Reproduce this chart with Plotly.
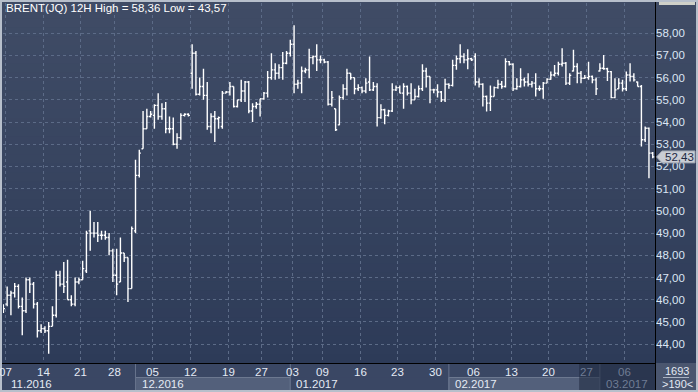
import plotly.graph_objects as go
import pandas as pd

# ---------------- data ----------------
opens = [45.5, 45.8, 46.2, 46.3, 46.6, 45.7, 45.5, 46.9, 46.7, 45.8,
         44.6, 44.7, 44.6, 44.8, 45.3, 47.1, 46.7, 46.8, 46.0, 45.8,
         46.8, 46.9, 47.3, 49.1, 49.0, 49.0, 48.9, 48.9, 48.8, 48.2,
         47.1, 46.8, 48.1, 47.9, 46.5, 49.1, 51.6, 52.8, 53.7, 54.25,
         54.3, 54.75, 54.25, 54.6, 53.7, 53.7, 53.0, 53.3, 54.3, 54.35,
         56.2, 57.1, 55.25, 55.6, 55.2, 53.8, 54.25, 54.15, 53.8, 55.3,
         55.35, 55.6, 54.7, 55.0, 55.4, 55.8, 54.5, 54.7, 54.8, 55.05,
         55.3, 56.0, 56.35, 56.2, 56.45, 56.65, 57.1, 57.5, 55.7, 55.75,
         56.3, 56.35, 56.9, 56.95, 56.8, 56.8, 56.7, 54.8, 54.6, 53.87,
         55.1, 55.5, 56.2, 56.0, 55.5, 55.55, 55.4, 55.8, 55.45, 55.6,
         54.2, 54.55, 54.3, 54.5, 55.45, 55.55, 55.3, 55.6, 55.3, 55.0,
         55.15, 55.5, 56.3, 56.05, 55.45, 55.45, 55.35, 55.0, 55.7, 55.65,
         56.55, 56.85, 56.95, 56.8, 56.85, 56.95, 55.8, 55.7, 55.15, 54.85,
         55.15, 55.55, 55.7, 55.6, 56.72, 56.6, 55.5, 55.6, 55.9, 55.8,
         55.7, 55.75, 55.5, 55.5, 55.75, 55.93, 56.12, 56.2, 56.6, 56.65,
         55.75, 56.3, 56.5, 56.2, 55.97, 56.0, 56.05, 55.9, 56.3, 56.42,
         56.4, 56.27, 55.1, 55.5, 55.75, 55.5, 56.12, 56.05, 55.8, 55.6,
         53.2, 53.72, 52.6]
highs = [45.8, 46.6, 46.4, 46.75, 46.7, 46.1, 47.0, 47.0, 46.8, 45.9,
         44.9, 44.8, 45.0, 45.7, 47.3, 47.3, 47.7, 47.8, 46.2, 47.0,
         47.0, 47.75, 49.1, 50.0, 49.5, 49.5, 49.1, 49.1, 49.0, 48.3,
         48.3, 48.8, 48.1, 47.9, 49.3, 52.3, 52.75, 54.5, 54.6, 54.5,
         54.8, 55.3, 54.85, 54.9, 54.25, 54.2, 53.5, 54.4, 54.4, 54.4,
         57.5, 57.2, 56.0, 56.4, 55.8, 54.4, 54.5, 54.25, 55.4, 55.4,
         55.8, 55.6, 55.0, 55.9, 55.85, 55.85, 54.85, 54.9, 55.05, 55.35,
         56.3, 57.1, 56.65, 56.6, 57.15, 57.2, 57.7, 58.36, 55.9, 56.5,
         56.45, 57.3, 57.0, 57.5, 57.0, 56.85, 56.75, 55.4, 54.6, 55.2,
         55.7, 56.4, 56.2, 56.0, 55.7, 55.6, 55.97, 56.95, 55.8, 55.75,
         54.8, 54.6, 54.55, 55.75, 55.65, 55.65, 55.75, 55.65, 55.75, 55.5,
         55.65, 56.6, 56.45, 56.05, 55.5, 55.7, 55.4, 55.95, 55.75, 56.8,
         57.0, 57.5, 57.1, 57.28, 56.9, 57.1, 55.97, 55.75, 55.2, 55.65,
         55.6, 55.9, 55.85, 56.87, 56.75, 56.65, 55.97, 56.42, 56.0, 56.2,
         55.85, 56.2, 55.65, 55.8, 55.97, 56.27, 56.57, 56.72, 57.32, 56.7,
         56.2, 57.25, 56.65, 56.3, 56.12, 56.72, 56.1, 56.0, 56.65, 57.02,
         56.45, 56.3, 55.97, 55.97, 55.9, 56.27, 56.65, 56.2, 55.82, 55.67,
         53.8, 53.75, 52.65]
lows = [45.4, 45.7, 45.3, 46.1, 45.6, 44.4, 45.4, 46.3, 45.6, 44.3,
        44.5, 44.5, 43.57, 44.8, 45.2, 46.6, 46.3, 46.0, 45.7, 45.7,
        46.7, 46.9, 47.2, 48.2, 48.8, 48.6, 48.7, 48.7, 48.0, 46.8,
        46.2, 46.8, 47.7, 45.9, 46.5, 49.0, 51.5, 52.8, 53.7, 54.2,
        53.7, 54.1, 54.1, 53.5, 53.5, 52.95, 52.8, 53.2, 54.25, 54.25,
        55.5, 55.2, 55.2, 55.0, 53.65, 53.5, 53.1, 53.7, 53.7, 55.3,
        55.2, 54.65, 54.65, 54.9, 54.9, 54.4, 54.0, 54.6, 54.25, 55.0,
        55.1, 55.9, 55.9, 55.95, 55.9, 56.6, 56.95, 55.3, 55.5, 55.3,
        56.2, 55.97, 56.6, 56.3, 56.65, 56.65, 54.75, 54.7, 53.6, 53.85,
        55.0, 55.2, 55.9, 55.25, 55.4, 55.3, 55.3, 55.4, 55.4, 53.8,
        54.15, 53.9, 54.25, 54.45, 55.4, 55.3, 54.6, 55.2, 54.8, 55.0,
        55.1, 55.4, 55.55, 54.85, 55.3, 55.1, 54.9, 54.9, 55.5, 55.6,
        56.35, 56.65, 56.65, 56.38, 56.75, 55.65, 55.55, 54.7, 54.47, 54.5,
        55.15, 55.5, 55.5, 55.55, 56.55, 55.4, 55.45, 55.55, 55.6, 55.6,
        55.55, 55.15, 55.4, 55.05, 55.75, 55.9, 56.05, 56.1, 56.5, 55.67,
        55.67, 56.27, 55.75, 55.75, 55.95, 55.9, 55.75, 55.22, 56.27, 56.35,
        55.85, 55.07, 55.07, 55.5, 55.37, 55.4, 55.82, 55.82, 55.6, 52.9,
        53.1, 51.47, 52.37]
closes = [45.6, 46.2, 46.3, 46.6, 45.7, 45.5, 46.9, 46.7, 45.8, 44.6,
          44.7, 44.6, 44.8, 45.3, 47.1, 46.7, 46.6, 46.0, 45.8, 46.8,
          46.9, 47.4, 49.0, 49.0, 49.0, 48.9, 48.9, 48.8, 48.2, 47.1,
          46.7, 48.1, 47.9, 46.5, 49.2, 51.6, 52.6, 53.7, 54.25, 54.35,
          54.75, 54.25, 54.6, 53.7, 53.7, 53.0, 53.3, 54.3, 54.35, 54.3,
          57.1, 55.25, 55.6, 55.2, 53.8, 54.25, 54.15, 54.2, 55.3, 55.35,
          55.6, 54.7, 55.0, 55.4, 55.8, 54.5, 54.7, 54.8, 55.05, 55.3,
          56.0, 56.35, 56.2, 56.45, 56.65, 57.1, 57.5, 55.7, 55.75, 56.3,
          56.35, 56.9, 56.95, 56.8, 56.8, 56.7, 54.8, 55.1, 53.65, 55.1,
          55.5, 56.2, 56.0, 55.5, 55.55, 55.4, 55.75, 55.45, 55.6, 54.2,
          54.55, 54.3, 54.5, 55.45, 55.55, 55.3, 55.6, 55.3, 55.0, 55.15,
          55.5, 56.3, 56.05, 55.45, 55.45, 55.35, 55.0, 55.7, 55.65, 56.55,
          56.85, 56.95, 56.8, 56.85, 56.8, 55.8, 55.7, 55.15, 54.85, 55.15,
          55.55, 55.7, 55.6, 56.72, 56.6, 55.5, 55.6, 55.9, 55.8, 55.7,
          55.75, 55.5, 55.5, 55.75, 55.93, 56.12, 56.2, 56.6, 56.65, 55.75,
          56.1, 56.5, 56.2, 55.97, 56.0, 56.05, 55.9, 55.5, 56.42, 56.4,
          56.27, 55.1, 55.45, 55.75, 55.5, 56.12, 56.05, 55.9, 55.6, 53.2,
          53.72, 52.6, 52.43]

first_day = "2016-11-07"
last_day = "2017-03-10"
closed_days = ["2016-12-26", "2017-01-02"]
single_bar_days = ["2016-11-25", "2016-12-23", "2017-03-10"]
label_days = ["2016-11-07", "2016-11-14", "2016-11-21", "2016-11-28",
              "2016-12-05", "2016-12-12", "2016-12-19", "2016-12-27",
              "2017-01-03", "2017-01-09", "2017-01-16", "2017-01-23",
              "2017-01-30", "2017-02-06", "2017-02-13", "2017-02-20",
              "2017-02-27", "2017-03-06"]
price_ticks = list(range(44, 59))
title_text = "BRENT(JQ) 12H High = 58,36 Low = 43,57"
corner_top = "1693"
corner_bottom = ">190<"

# ---------------- bar calendar ----------------
days = [d.strftime("%Y-%m-%d") for d in pd.bdate_range(first_day, last_day)
        if d.strftime("%Y-%m-%d") not in closed_days]
bar_day = []
for d in days:
    bar_day += [d] * (1 if d in single_bar_days else 2)
n_bars = min(len(bar_day), len(opens))
bar_day = bar_day[:n_bars]
first_idx = {}
for i, d in enumerate(bar_day):
    first_idx.setdefault(d, i)
month_starts = []
for i, d in enumerate(bar_day):
    m = d[:7]
    if not month_starts or month_starts[-1][1] != m:
        month_starts.append((i, m))

# ---------------- geometry helpers ----------------
W, H = 698, 392
ML, MR, MT, MB = 3, 43, 3, 29
PW, PH = W - ML - MR, H - MT - MB
XR = [-0.1, n_bars - 0.4]
YR = [43.15, 59.36]


def px(x):
    return (x - ML) / PW


def py(y):
    return (H - MB - y) / PH


FONT = "Liberation Sans Narrow, Arial Narrow, Liberation Sans, Arial, sans-serif"

fig = go.Figure()
fig.add_trace(go.Ohlc(
    x=list(range(n_bars)), open=opens[:n_bars], high=highs[:n_bars],
    low=lows[:n_bars], close=closes[:n_bars],
    increasing=dict(line=dict(color="#ffffff", width=1.4)),
    decreasing=dict(line=dict(color="#ffffff", width=1.4)),
    tickwidth=0.42, hoverinfo="skip", showlegend=False,
))

shapes = []
# background gradient (plot + right panel)
top_c = (64, 76, 102)
bot_c = (45, 59, 88)
ns = 40
for k in range(ns):
    y0 = 363 * k / ns
    y1 = 363 * (k + 1) / ns
    t = (k + 0.5) / ns
    c = tuple(int(round(top_c[j] + (bot_c[j] - top_c[j]) * t)) for j in range(3))
    shapes.append(dict(type="rect", xref="paper", yref="paper", layer="below",
                       x0=px(0), x1=px(W), y0=py(y1 + 0.5), y1=py(y0),
                       line=dict(width=0), fillcolor="rgb(%d,%d,%d)" % c))
# bottom axis area
shapes.append(dict(type="rect", xref="paper", yref="paper", layer="below",
                   x0=px(0), x1=px(655), y0=py(H), y1=py(363),
                   line=dict(width=0), fillcolor="#3a4764"))
# month bands (lower row)
for k, (i0, m) in enumerate(month_starts):
    i1 = month_starts[k + 1][0] if k + 1 < len(month_starts) else XR[1] + 5
    x0 = i0 if k > 0 else XR[0] - 2
    light = (k % 2 == 1)
    shapes.append(dict(type="rect", xref="x", yref="paper", layer="below",
                       x0=x0, x1=i1, y0=py(390.5), y1=py(377.5),
                       line=dict(width=1, color="#6c7890" if light else "rgba(0,0,0,0)"),
                       fillcolor="#53607b" if light else "#3a4764"))
    if k > 0:
        shapes.append(dict(type="line", xref="x", yref="paper", layer="below",
                           x0=i0, x1=i0, y0=py(391), y1=py(364),
                           line=dict(width=1, color="#66728b")))
# dim overlay at the end of the time axis
dim_start = n_bars - 20 - 0.5
shapes.append(dict(type="rect", xref="x", yref="paper", layer="above",
                   x0=dim_start, x1=XR[1] + 5, y0=py(391), y1=py(364),
                   line=dict(width=0), fillcolor="rgba(30,40,62,0.55)"))
# bottom-right corner box
shapes.append(dict(type="rect", xref="paper", yref="paper", layer="below",
                   x0=px(655), x1=px(W), y0=py(H), y1=py(363),
                   line=dict(width=0), fillcolor="#4a566f"))
shapes.append(dict(type="line", xref="paper", yref="paper", layer="above",
                   x0=px(663), x1=px(689), y0=py(377.5), y1=py(377.5),
                   line=dict(width=1, color="#a9b2c2")))
# black axis lines
shapes.append(dict(type="line", xref="paper", yref="paper", layer="above",
                   x0=px(0), x1=px(655.5), y0=py(363.5), y1=py(363.5),
                   line=dict(width=1, color="#000000")))
shapes.append(dict(type="line", xref="paper", yref="paper", layer="above",
                   x0=px(655.5), x1=px(655.5), y0=py(H), y1=py(0),
                   line=dict(width=1, color="#000000")))
# last price marker
last = closes[n_bars - 1]
hh = 0.27
shapes.append(dict(type="path", xref="paper", yref="y", layer="above",
                   path="M %f,%f L %f,%f L %f,%f L %f,%f L %f,%f Z" % (
                       px(656.5), last, px(662), last + hh, px(695), last + hh,
                       px(695), last - hh, px(662), last - hh),
                   line=dict(width=1, color="#9aa1ad"), fillcolor="#c9cdd4"))
# partially visible marker at the top of the price axis
shapes.append(dict(type="rect", xref="paper", yref="paper", layer="above",
                   x0=px(659), x1=px(695), y0=py(5), y1=py(0),
                   line=dict(width=0), fillcolor="#cfd0c8"))
# outer frame
shapes.append(dict(type="rect", xref="paper", yref="paper", layer="above",
                   x0=px(1), x1=px(W - 1), y0=py(H - 1), y1=py(1),
                   line=dict(width=2, color="#b7bfcb"), fillcolor="rgba(0,0,0,0)"))

annotations = []
annotations.append(dict(text=title_text, xref="paper", yref="paper", x=px(4), y=py(8.5),
                        xanchor="left", yanchor="middle", showarrow=False,
                        font=dict(family=FONT, size=11.5, color="#ffffff")))
tick_x = [first_idx[d] + 0.5 for d in label_days if d in first_idx]
for d in label_days:
    if d not in first_idx:
        continue
    xi = first_idx[d] + 0.5
    dim = xi > dim_start
    annotations.append(dict(text=d[8:10], xref="x", yref="paper", x=xi, y=py(372),
                            xanchor="center", yanchor="middle", showarrow=False,
                            font=dict(family=FONT, size=11.5,
                                      color="#6f7c94" if dim else "#e4eaf4")))
for k, (i0, m) in enumerate(month_starts):
    dim = i0 > dim_start
    annotations.append(dict(text=m[5:7] + "." + m[:4], xref="x", yref="paper",
                            x=max(i0, 0), y=py(384), xshift=4 if k > 0 else 6,
                            xanchor="left", yanchor="middle", showarrow=False,
                            font=dict(family=FONT, size=11.5,
                                      color="#6f7c94" if dim else "#e4eaf4")))
annotations.append(dict(text=corner_top, xref="paper", yref="paper", x=px(677), y=py(371.5),
                        xanchor="center", yanchor="middle", showarrow=False,
                        font=dict(family=FONT, size=11, color="#e4eaf4")))
annotations.append(dict(text=corner_bottom, xref="paper", yref="paper", x=px(677), y=py(384),
                        xanchor="center", yanchor="middle", showarrow=False,
                        font=dict(family=FONT, size=11, color="#e4eaf4")))
annotations.append(dict(text=("%.2f" % last).replace(".", ","), xref="paper", yref="y",
                        x=px(663), y=last, xanchor="left", yanchor="middle", showarrow=False,
                        font=dict(family=FONT, size=11.5, color="#1d2942")))

fig.update_layout(
    width=W, height=H,
    margin=dict(l=ML, r=MR, t=MT, b=MB, pad=0),
    paper_bgcolor="#3a4764", plot_bgcolor="rgba(0,0,0,0)",
    shapes=shapes, annotations=annotations, showlegend=False,
    xaxis=dict(range=XR, tickvals=tick_x, showticklabels=False, ticks="",
               showgrid=True, gridcolor="#5c6b87", griddash="3px,3px", gridwidth=1,
               zeroline=False, showline=False, rangeslider=dict(visible=False),
               fixedrange=True),
    yaxis=dict(range=YR, side="right", tickvals=price_ticks,
               ticktext=["%d,00" % v for v in price_ticks], ticks="",
               tickfont=dict(family=FONT, size=11.5, color="#dce6f4"),
               showgrid=True, gridcolor="#5c6b87", griddash="3px,3px", gridwidth=1,
               zeroline=False, showline=False, fixedrange=True),
)

fig.write_html(
    "out.html",
    config=dict(displayModeBar=False, staticPlot=True),
    post_script="document.body.style.margin='0';document.body.style.padding='0';"
                "document.documentElement.style.overflow='hidden';",
)
